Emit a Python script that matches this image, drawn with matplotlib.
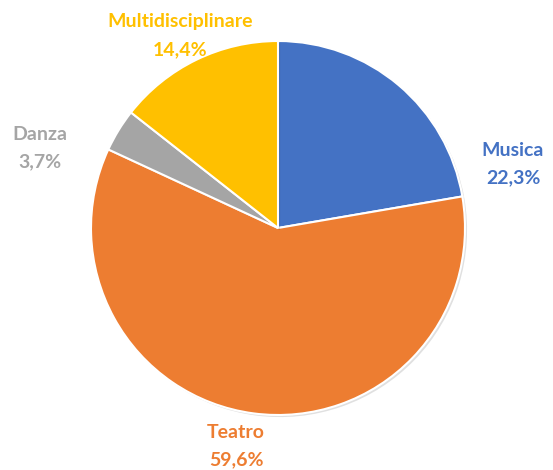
import matplotlib
matplotlib.use("Agg")
import matplotlib.pyplot as plt
import matplotlib.patheffects as pe

# data
labels = ["Musica", "Teatro", "Danza", "Multidisciplinare"]
values = [22.3, 59.6, 3.7, 14.4]
colors = ["#4472C4", "#ED7D31", "#A5A5A5", "#FFC000"]

W, H = 553, 470
CX, CY, R = 278, 470 - 228, 187

# label centres in pixels (top-left origin)
label_pos = [(513, 164), (236, 446), (40, 148), (180, 36)]
GAP = 14  # half distance between the two label lines

fig = plt.figure(figsize=(W / 100, H / 100), dpi=100)
ax = fig.add_axes([0, 0, 1, 1])

wedges, _ = ax.pie(values, colors=colors, startangle=90, counterclock=False,
                   center=(CX, CY), radius=R, frame=True,
                   wedgeprops=dict(edgecolor="white", linewidth=1.5))
for w in wedges:
    w.set_path_effects([pe.SimplePatchShadow(offset=(1.5, -1.5), shadow_rgbFace="#000000", alpha=0.12),
                        pe.Normal()])
ax.set_xlim(0, W)
ax.set_ylim(0, H)
ax.set_aspect("equal")
ax.axis("off")

font = dict(ha="center", va="center", fontsize=14, fontweight="bold",
            family=["Lato", "DejaVu Sans"])
for lab, val, col, (px, py) in zip(labels, values, colors, label_pos):
    pct = f"{val:.1f}%".replace(".", ",")
    ax.text(px, H - py + GAP, lab, color=col, **font)
    ax.text(px, H - py - GAP, pct, color=col, **font)

fig.savefig("out.png", dpi=100)
